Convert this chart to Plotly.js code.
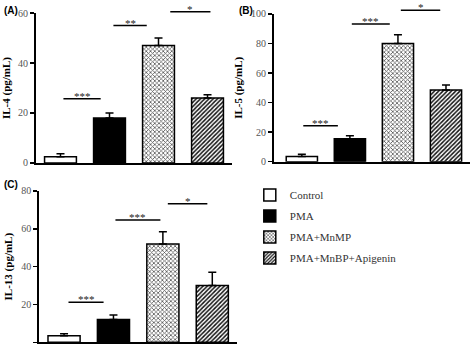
<!DOCTYPE html>
<html><head><meta charset="utf-8">
<script src="https://cdn.plot.ly/plotly-3.0.1.min.js"></script>
<style>html,body{margin:0;padding:0;background:#fff}#chart{width:474px;height:347px}</style>
</head><body><div id="chart"></div>
<script>
const groups = ["Control", "PMA", "PMA+MnMP", "PMA+MnBP+Apigenin"];
// IL-4 (A)
const il4Mean = [2.5, 18, 47, 26];
const il4Top  = [3.7, 20, 50, 27.3];
// IL-5 (B)
const il5Mean = [3.5, 15.5, 80, 48.5];
const il5Top  = [5, 17.5, 86, 52];
// IL-13 (C)
const il13Mean = [3.5, 12, 52, 30];
const il13Top  = [4.5, 14.5, 58.5, 37];
// significance brackets: [x0, x1, y, label]  (x in category index units)
const sigA = [[0.06, 0.82, 25.7, "***"], [1.08, 1.76, 55, "**"], [2.24, 3.06, 60.5, "*"]];
const sigB = [[0.03, 0.75, 24.4, "***"], [1.04, 1.83, 93.2, "***"], [2.06, 2.88, 102.5, "*"]];
const sigC = [[0.09, 0.8, 21.2, "***"], [1.04, 1.95, 64.7, "***"], [2.1, 2.9, 73.3, "*"]];

const serif = "Liberation Serif, Times New Roman, serif";
const styles = [
  {color: "#ffffff", pattern: {shape: ""}},
  {color: "#000000", pattern: {shape: ""}},
  {color: "#ffffff", pattern: {shape: "x", fgcolor: "#555", size: 3, solidity: 0.45}},
  {color: "#ffffff", pattern: {shape: "/", fgcolor: "#111", size: 3, solidity: 0.5}}
];

// panel geometry
const panels = [
  {xd: [0.0759, 0.4895], xr: [-0.5, 3.5], yd: [0.5303, 0.9625], ymax: 60, top: 1.0, title: "IL-4 (pg/mL)", mean: il4Mean, hi: il4Top, sig: sigA},
  {xd: [0.578, 0.9916], xr: [-0.58, 3.5], yd: [0.534, 0.9597], ymax: 100, top: 1.0, title: "IL-5 (pg/mL)", mean: il5Mean, hi: il5Top, sig: sigB},
  {xd: [0.083, 0.5], xr: [-0.5, 3.5], yd: [0.0135, 0.4496], ymax: 80, top: 0.5, title: "IL-13 (pg/mL)", mean: il13Mean, hi: il13Top, sig: sigC}
];

const traces = [], annotations = [];
const layout = {
  width: 474, height: 347, margin: {l: 0, r: 0, t: 0, b: 0}, paper_bgcolor: "#fff", plot_bgcolor: "rgba(0,0,0,0)",
  barmode: "overlay", showlegend: true,
  legend: {x: 0.527, y: 0.48, xanchor: "left", yanchor: "top", font: {family: serif, size: 11, color: "#333"}, tracegroupgap: 2, itemclick: false},
  annotations: annotations
};

panels.forEach((p, k) => {
  const n = k + 1, on = k + 4;
  const xa = "x" + (n === 1 ? "" : n), ya = "y" + (n === 1 ? "" : n);
  const xo = "x" + on, yo = "y" + on;
  layout["xaxis" + (n === 1 ? "" : n)] = {domain: p.xd, range: p.xr, anchor: ya, showticklabels: false, ticks: "",
    showline: true, linecolor: "#000", linewidth: 2, showgrid: false, zeroline: false};
  layout["yaxis" + (n === 1 ? "" : n)] = {domain: p.yd, range: [0, p.ymax], dtick: 20, anchor: xa, showline: true, linecolor: "#000", linewidth: 2,
    ticks: "outside", ticklen: 4, tickwidth: 1.5, tickcolor: "#000", showgrid: false, zeroline: false,
    tickfont: {family: serif, size: 10, color: "#555"},
    title: {text: "<b>" + p.title + "</b>", font: {family: serif, size: 11, color: "#000"}, standoff: 6}};
  // hidden overlay subplot with taller domain, same scale, so brackets above the axis top are not clipped
  const ext = p.ymax * (p.top - p.yd[0]) / (p.yd[1] - p.yd[0]);
  layout["xaxis" + on] = {domain: p.xd, range: p.xr, anchor: yo, visible: false};
  layout["yaxis" + on] = {domain: [p.yd[0], p.top], range: [0, ext], anchor: xo, visible: false};

  groups.forEach((g, i) => {
    traces.push({
      type: "bar", x: [i], y: [p.mean[i]], name: g,
      xaxis: xa, yaxis: ya, showlegend: k === 0, legendgroup: g,
      width: 0.65,
      marker: {color: styles[i].color, pattern: styles[i].pattern, line: {color: "#000", width: 1.5}},
      error_y: {type: "data", symmetric: false, array: [p.hi[i] - p.mean[i]], arrayminus: [0], color: "#000", thickness: 1.5, width: 4}
    });
  });
  p.sig.forEach(s => {
    traces.push({type: "scatter", mode: "lines", x: [s[0], s[1]], y: [s[2], s[2]], xaxis: xo, yaxis: yo,
      line: {color: "#000", width: 1.5}, showlegend: false, hoverinfo: "skip"});
    annotations.push({xref: xo, yref: yo, x: (s[0] + s[1]) / 2, y: s[2], text: s[3], showarrow: false, yanchor: "bottom", yshift: -5,
      font: {family: serif, size: 11, color: "#222"}});
  });
});

[["(A)", 0.004, 0.99], ["(B)", 0.5, 0.99], ["(C)", 0.004, 0.49]].forEach(p => {
  annotations.push({xref: "paper", yref: "paper", x: p[1], y: p[2], text: "<b>" + p[0] + "</b>", showarrow: false, xanchor: "left", yanchor: "top",
    font: {family: "Liberation Sans, Arial, sans-serif", size: 10, color: "#000"}});
});

Plotly.newPlot("chart", traces, layout, {displayModeBar: false, staticPlot: true});
</script></body></html>
